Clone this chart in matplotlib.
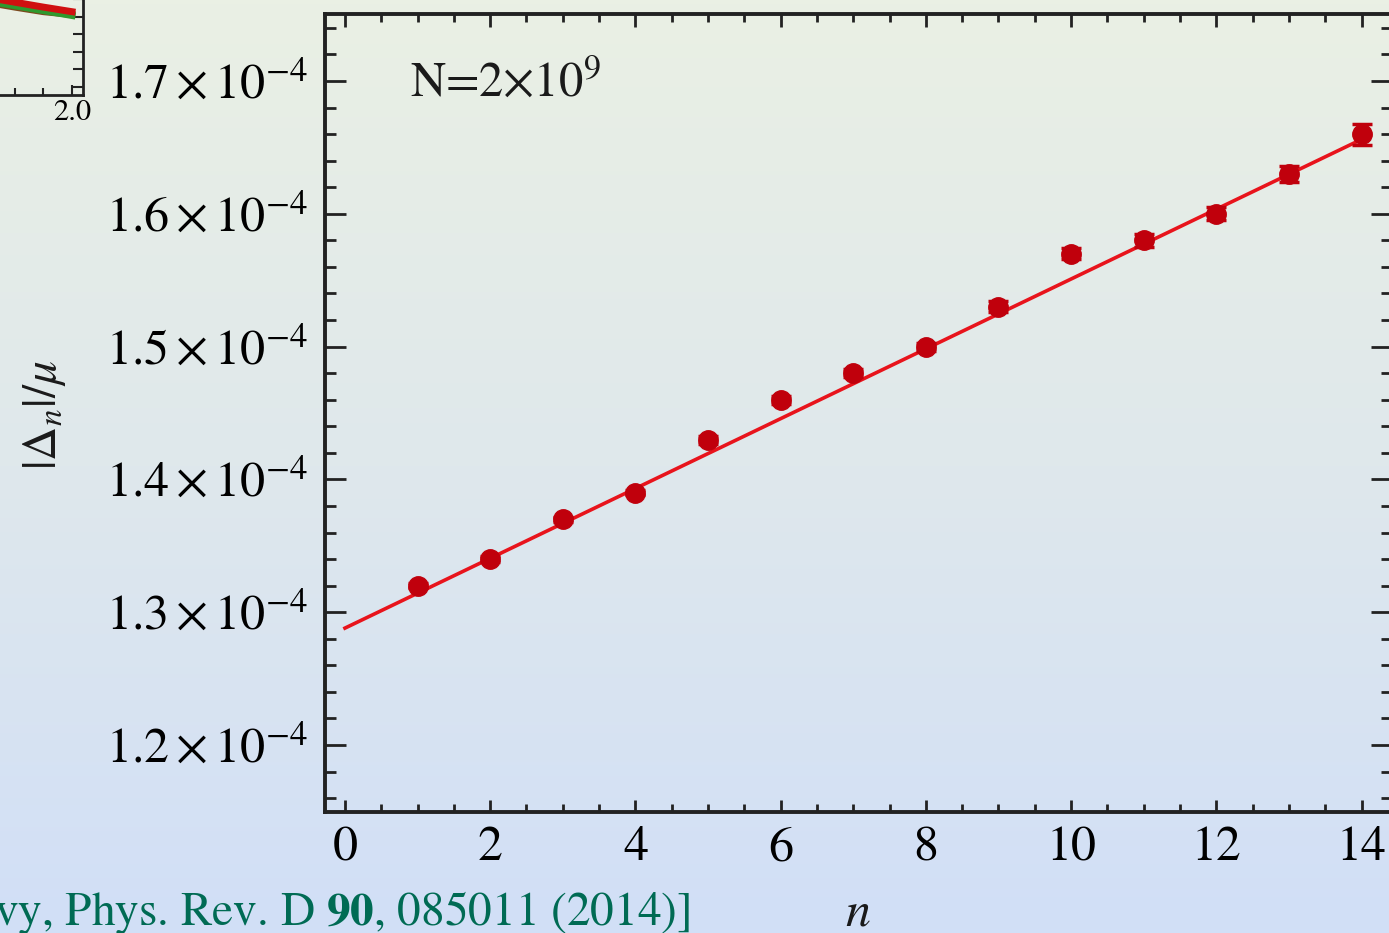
import matplotlib
matplotlib.use('Agg')
import matplotlib.pyplot as plt
import numpy as np
from matplotlib.ticker import MultipleLocator, FixedLocator
from matplotlib.colors import LinearSegmentedColormap

plt.rcParams['mathtext.fontset'] = 'stix'
plt.rcParams['font.family'] = ['STIXGeneral', 'DejaVu Serif']

# data, |Delta_n|/mu in units of 1e-4
n = [1, 2, 3, 4, 5, 6, 7, 8, 9, 10, 11, 12, 13, 14]
gap = [1.32, 1.34, 1.37, 1.39, 1.43, 1.46, 1.48, 1.50, 1.53, 1.57, 1.58, 1.60, 1.63, 1.66]
gap_err = [0.002, 0.002, 0.002, 0.002, 0.003, 0.003, 0.003, 0.003, 0.004, 0.004, 0.005, 0.005, 0.006, 0.008]
fit_intercept = 1.288
fit_slope = 0.02629
fit_range = [0, 14.1]
ytick_vals = [1.2, 1.3, 1.4, 1.5, 1.6, 1.7]
ytick_labels = [r'$%.1f\times10^{-4}$' % v for v in ytick_vals]

# bits of the neighbouring panel that show at the top left
inset_x = [1.60, 1.70, 1.80, 1.90, 2.00]
inset_red = [0.545, 0.512, 0.484, 0.456, 0.430]
inset_green = [0.525, 0.492, 0.464, 0.436, 0.408]
inset_brown = [0.515, 0.484, 0.456, 0.430, 0.414]

citation = r'vy, Phys. Rev. D $\mathbf{90}$, 085011 (2014)]'

fig = plt.figure(figsize=(13.89, 9.33), dpi=100)

# slide background gradient
bg = fig.add_axes([0, 0, 1, 1], zorder=-10)
cmap = LinearSegmentedColormap.from_list('slide', ['#eaf0e4', '#dfe8ec', '#d1dff7'])
bg.imshow(np.linspace(0, 1, 256).reshape(-1, 1), cmap=cmap, aspect='auto',
          extent=[0, 1, 0, 1], origin='upper')
bg.set_xlim(0, 1)
bg.set_ylim(0, 1)
bg.axis('off')

ax = fig.add_axes([325/1389, 1-812/933, (1392-325)/1389, (812-14)/933])
ax.set_facecolor('none')

fx = np.array(fit_range)
ax.plot(fx, fit_intercept + fit_slope*fx, color='#e8141c', lw=2.6, zorder=2)
ax.errorbar(n, gap, yerr=gap_err, fmt='o', color='#c0000c', ms=14,
            elinewidth=2.5, capsize=7, capthick=2.5, zorder=3)

ax.set_xlim(-0.275, 14.42)
ax.set_ylim(1.1495, 1.7505)
ax.xaxis.set_major_locator(MultipleLocator(2))
ax.xaxis.set_minor_locator(MultipleLocator(0.5))
ax.yaxis.set_major_locator(FixedLocator(ytick_vals))
ax.yaxis.set_minor_locator(MultipleLocator(0.02))
ax.set_yticklabels(ytick_labels)

for s in ax.spines.values():
    s.set_linewidth(2.8)
    s.set_color('#222222')
ax.tick_params(which='both', direction='in', top=True, right=True, color='#222222', width=2)
ax.tick_params(axis='y', which='major', length=15, pad=12, labelsize=36)
ax.tick_params(axis='y', which='minor', length=8)
ax.tick_params(axis='x', which='major', length=9, pad=10, labelsize=36)
ax.tick_params(axis='x', which='minor', length=6)

ax.text(0.08, 0.898, r'N=2$\times$10$^9$', transform=ax.transAxes, fontsize=35,
        va='baseline', ha='left', color='#1a1a1a')

fig.text(45/1389, 1-415/933, r'$|\Delta_n|/\mu$', rotation=90, fontsize=34,
         ha='center', va='center', color='#1a1a1a')
fig.text(858/1389, 1-914/933, r'$n$', fontsize=36, ha='center', va='center', color='#1a1a1a')

fig.text(690/1389, 1-925/933, citation, fontsize=34, color='#006b54',
         ha='right', va='baseline')

# partial neighbouring panel
ins = fig.add_axes([-300/1389, 1-95/933, 383/1389, 150/933])
ins.set_facecolor('none')
ins.plot(inset_x, inset_brown, color='#7a4a1e', lw=5)
ins.plot(inset_x, inset_green, color='#2e9a2e', lw=5)
ins.plot(inset_x, inset_red, color='#d01010', lw=5)
ins.set_xlim(0.695, 2.0386)
ins.set_ylim(-0.046, 0.811)
ins.xaxis.set_major_locator(FixedLocator([2.0]))
ins.xaxis.set_minor_locator(MultipleLocator(0.1))
ins.yaxis.set_major_locator(MultipleLocator(0.1))
ins.set_xticklabels(['2.0'])
ins.yaxis.tick_right()
ins.set_yticklabels([])
for s in ins.spines.values():
    s.set_linewidth(2)
    s.set_color('#222222')
ins.tick_params(which='both', direction='in', width=1.5, color='#222222')
ins.tick_params(axis='x', which='major', length=7, pad=3, labelsize=22)
ins.tick_params(axis='x', which='minor', length=5)
ins.tick_params(axis='y', which='major', length=7)

fig.savefig('out.png', dpi=100)
